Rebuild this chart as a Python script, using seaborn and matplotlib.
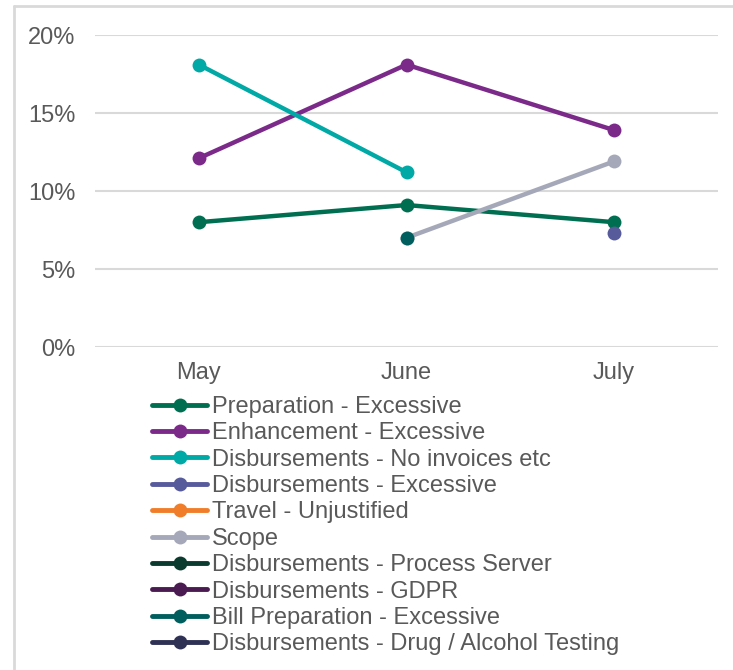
import numpy as np
import pandas as pd
import matplotlib
matplotlib.use("Agg")
import matplotlib.pyplot as plt
from matplotlib.lines import Line2D
import seaborn as sns

# Chart data
months = ["May", "June", "July"]
series_names = [
    "Preparation - Excessive",
    "Enhancement - Excessive",
    "Disbursements - No invoices etc",
    "Disbursements - Excessive",
    "Travel - Unjustified",
    "Scope",
    "Disbursements - Process Server",
    "Disbursements - GDPR",
    "Bill Preparation - Excessive",
    "Disbursements - Drug / Alcohol Testing",
]
preparation = [0.080, 0.091, 0.080]
enhancement = [0.121, 0.181, 0.139]
no_invoices = [0.181, 0.112, np.nan]
disb_excessive = [np.nan, np.nan, 0.073]
travel = [np.nan, np.nan, np.nan]
scope = [np.nan, 0.070, 0.119]
process_server = [np.nan, np.nan, np.nan]
gdpr = [np.nan, np.nan, np.nan]
bill_preparation = [np.nan, 0.070, np.nan]
drug_alcohol = [np.nan, np.nan, np.nan]
series_values = [preparation, enhancement, no_invoices, disb_excessive, travel,
                 scope, process_server, gdpr, bill_preparation, drug_alcohol]
colors = ["#006F51", "#7B2A8A", "#00A9A5", "#575A9B", "#F07D2A",
          "#A5A8B8", "#0B3B2E", "#4A1B50", "#005F5E", "#2E3154"]

sns.set_style("white")
plt.rcParams["font.family"] = ["Liberation Sans", "DejaVu Sans"]

fig = plt.figure(figsize=(7.33, 6.70), dpi=100)
ax = fig.add_axes([95 / 733, 1 - 347 / 670, 623 / 733, 312 / 670])

x_pos = np.arange(len(months))
handles = []
for name, vals, col in zip(series_names, series_values, colors):
    df = pd.DataFrame({"x": x_pos, "y": vals}).dropna()
    if len(df) > 0:
        sns.lineplot(data=df, x="x", y="y", ax=ax, color=col, linewidth=3.2,
                     marker="o", markersize=10, markeredgewidth=0, sort=False,
                     zorder=3)
    handles.append(Line2D([0], [0], color=col, linewidth=3.5, marker="o",
                          markersize=10, markeredgewidth=0))

ax.set_xlim(-0.5, 2.5)
ax.set_ylim(0, 0.2)
ax.set_xticks(x_pos)
ax.set_xticklabels(months)
ax.set_yticks([0, 0.05, 0.10, 0.15, 0.20])
ax.set_yticklabels(["0%", "5%", "10%", "15%", "20%"])
ax.set_xlabel("")
ax.set_ylabel("")
ax.yaxis.grid(True, color="#D9D9D9", linewidth=1.5)
ax.set_axisbelow(True)
for s in ax.spines.values():
    s.set_visible(False)
ax.tick_params(axis="y", length=0, pad=14, labelsize=17, labelcolor="#595959")
ax.tick_params(axis="x", length=0, pad=11, labelsize=17, labelcolor="#595959")
for ln in ax.lines:
    ln.set_clip_on(False)

leg = fig.legend(handles, series_names, loc="upper left",
                 bbox_to_anchor=(152 / 733, 1 - 396 / 670), frameon=False,
                 fontsize=17, handlelength=2.35, handletextpad=0.2,
                 labelspacing=0.185, borderpad=0, borderaxespad=0)
for t in leg.get_texts():
    t.set_color("#595959")

# outer light border
fig.add_artist(Line2D([14 / 733, 14 / 733], [0, 1 - 6 / 670], color="#D9D9D9", linewidth=2))
fig.add_artist(Line2D([14 / 733, 1], [1 - 6 / 670, 1 - 6 / 670], color="#D9D9D9", linewidth=2))

fig.savefig("out.png", dpi=100)
